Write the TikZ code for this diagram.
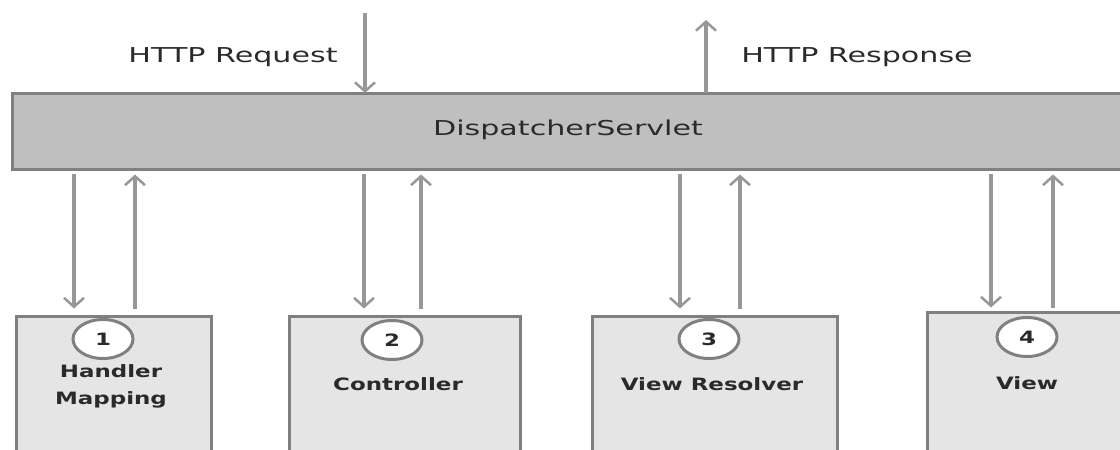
\documentclass[tikz,border=0pt]{standalone}
\usepackage{fontspec}
\setmainfont{DejaVu Sans}
\newfontfamily\headfont[FakeStretch=1.47]{DejaVu Sans}
\newfontfamily\boxfont[FakeStretch=1.35]{DejaVu Sans}
\usetikzlibrary{arrows.meta,shapes.geometric}

\definecolor{edgegray}{HTML}{808080}
\definecolor{barfill}{HTML}{BFBFBF}
\definecolor{boxfill}{HTML}{E5E5E5}
\definecolor{arrowgray}{HTML}{979797}
\definecolor{inkgray}{HTML}{2A2A2A}

\tikzset{
  bar/.style={draw=edgegray, line width=3pt, fill=barfill, anchor=north west,
    inner sep=0pt},
  compbox/.style={draw=edgegray, line width=3pt, fill=boxfill, anchor=north west,
    inner sep=0pt},
  numcircle/.style={ellipse, draw=edgegray, line width=3pt, fill=white,
    minimum width=60pt, minimum height=39pt, inner sep=0pt,
    font=\boxfont\bfseries\fontsize{17}{20}\selectfont, text=inkgray},
  headlabel/.style={font=\headfont\fontsize{20.5}{24}\selectfont, text=inkgray},
  boxlabel/.style={font=\boxfont\bfseries\fontsize{17}{27}\selectfont,
    text=inkgray, align=center},
  flow/.style={draw=arrowgray, line width=3.2pt,
    -{Straight Barb[length=9pt, width=20pt, line width=2.5pt]}},
}

\begin{document}
\begin{tikzpicture}[x=1pt, y=-1pt]
  \useasboundingbox (0,0) rectangle (1120,450);
  \clip (0,0) rectangle (1120,450);

  % front controller bar
  \node[bar, minimum width=1125pt, minimum height=76pt] (servlet) at (10.5,91.5) {};
  \node[headlabel] (servlettext) at (568,130) {DispatcherServlet};

  % component boxes (they run off the lower edge)
  \node[compbox, minimum width=195pt, minimum height=150pt] (hm) at (14.5,314.5) {};
  \node[compbox, minimum width=231pt, minimum height=150pt] (ctrl) at (287.5,314.5) {};
  \node[compbox, minimum width=245pt, minimum height=150pt] (vr) at (590.5,314.5) {};
  \node[compbox, minimum width=230pt, minimum height=150pt] (view) at (925.5,310.5) {};

  % step numbers
  \node[numcircle] (n1) at (103,339) {1};
  \node[numcircle] (n2) at (392,340) {2};
  \node[numcircle] (n3) at (709,339) {3};
  \node[numcircle] (n4) at (1027,337) {4};

  % component names
  \node[boxlabel] (hmtext) at (111,386) {Handler\\Mapping};
  \node[boxlabel] (ctrltext) at (398,384) {Controller};
  \node[boxlabel] (vrtext) at (712,384) {View Resolver};
  \node[boxlabel] (viewtext) at (1027,383) {View};

  % request / response
  \node[headlabel] (reqtext) at (233,57) {HTTP Request};
  \node[headlabel] (resptext) at (857,57) {HTTP Response};
  \coordinate (req) at (365,13);
  \coordinate (resp) at (706,20);
  \draw[flow] (req) -- ([yshift=-1.5pt]req |- servlet.north);
  \draw[flow] ([yshift=-1.5pt]resp |- servlet.north) -- (resp);

  % columns of the call / return arrows
  \coordinate (d1) at (74,0);   \coordinate (u1) at (135,0);
  \coordinate (d2) at (364,0);  \coordinate (u2) at (421,0);
  \coordinate (d3) at (680,0);  \coordinate (u3) at (740,0);
  \coordinate (d4) at (991,0);  \coordinate (u4) at (1053,0);

  \draw[flow, shorten <=3pt, shorten >=6pt] (d1 |- servlet.south) -- (d1 |- hm.north);
  \draw[flow, shorten <=6pt, shorten >=4pt] (u1 |- hm.north) -- (u1 |- servlet.south);
  \draw[flow, shorten <=3pt, shorten >=6pt] (d2 |- servlet.south) -- (d2 |- ctrl.north);
  \draw[flow, shorten <=6pt, shorten >=4pt] (u2 |- ctrl.north) -- (u2 |- servlet.south);
  \draw[flow, shorten <=3pt, shorten >=6pt] (d3 |- servlet.south) -- (d3 |- vr.north);
  \draw[flow, shorten <=6pt, shorten >=4pt] (u3 |- vr.north) -- (u3 |- servlet.south);
  \draw[flow, shorten <=3pt, shorten >=3pt] (d4 |- servlet.south) -- (d4 |- view.north);
  \draw[flow, shorten <=3pt, shorten >=4pt] (u4 |- view.north) -- (u4 |- servlet.south);
\end{tikzpicture}
\end{document}
